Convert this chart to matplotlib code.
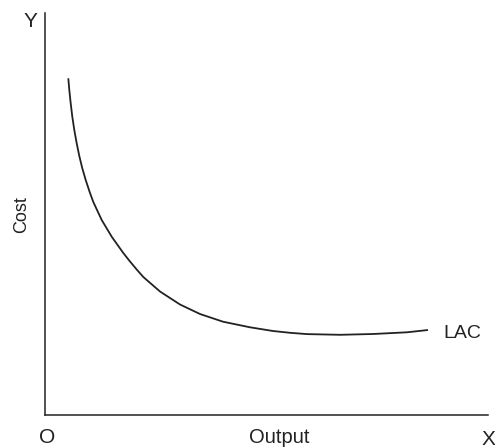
import matplotlib
matplotlib.use("Agg")
import matplotlib.pyplot as plt

plt.rcParams["font.family"] = ["Liberation Sans", "DejaVu Sans"]

# LAC curve (arbitrary output / cost units)
output = [23.3, 24.3, 25.7, 27.3, 29.3, 31.7, 34.3, 37.3, 40.7, 44.5, 48.3, 56.7, 66.7,
          78.3, 85, 91.7, 98.3, 115, 135, 155, 178, 205, 228, 245, 262, 295, 328, 362, 383]
cost = [336.7, 325, 311.7, 298.3, 285, 271.7, 259, 246.7, 235, 223.5, 213, 195, 178.3,
        162, 153.5, 145.5, 138, 123.5, 110.5, 101, 93.3, 87.7, 84, 82.2, 80.9, 80.2, 81, 82.7, 85]

W, H = 495, 448
fig = plt.figure(figsize=(W / 100, H / 100), dpi=100)
ax = fig.add_axes([45 / W, (H - 415) / H, (488 - 45) / W, (415 - 13) / H])

ax.plot(output, cost, color="#222222", linewidth=1.3, solid_capstyle="butt", solid_joinstyle="round")
ax.set_xlim(0, 443)
ax.set_ylim(0, 402)

for side in ["top", "right"]:
    ax.spines[side].set_visible(False)
for side in ["left", "bottom"]:
    ax.spines[side].set_color("#222222")
    ax.spines[side].set_linewidth(1.1)
ax.set_xticks([])
ax.set_yticks([])

def px(x, y):
    return x / W, 1 - y / H

fig.text(*px(30, 27), "Y", fontsize=15, ha="center", va="baseline", color="#222222")
fig.text(*px(488, 445), "X", fontsize=15, ha="center", va="baseline", color="#222222")
fig.text(*px(47, 443), "O", fontsize=15, ha="center", va="baseline", color="#222222")
fig.text(*px(279, 443), "Output", fontsize=14.5, ha="center", va="baseline", color="#222222")
fig.text(*px(22, 215), "Cost", fontsize=13, ha="center", va="center", rotation=90, color="#222222")
ax.text(output[-1] + 15, cost[-1] - 3, "LAC", fontsize=14, ha="left", va="center", color="#222222")

fig.savefig("out.png", dpi=100)
